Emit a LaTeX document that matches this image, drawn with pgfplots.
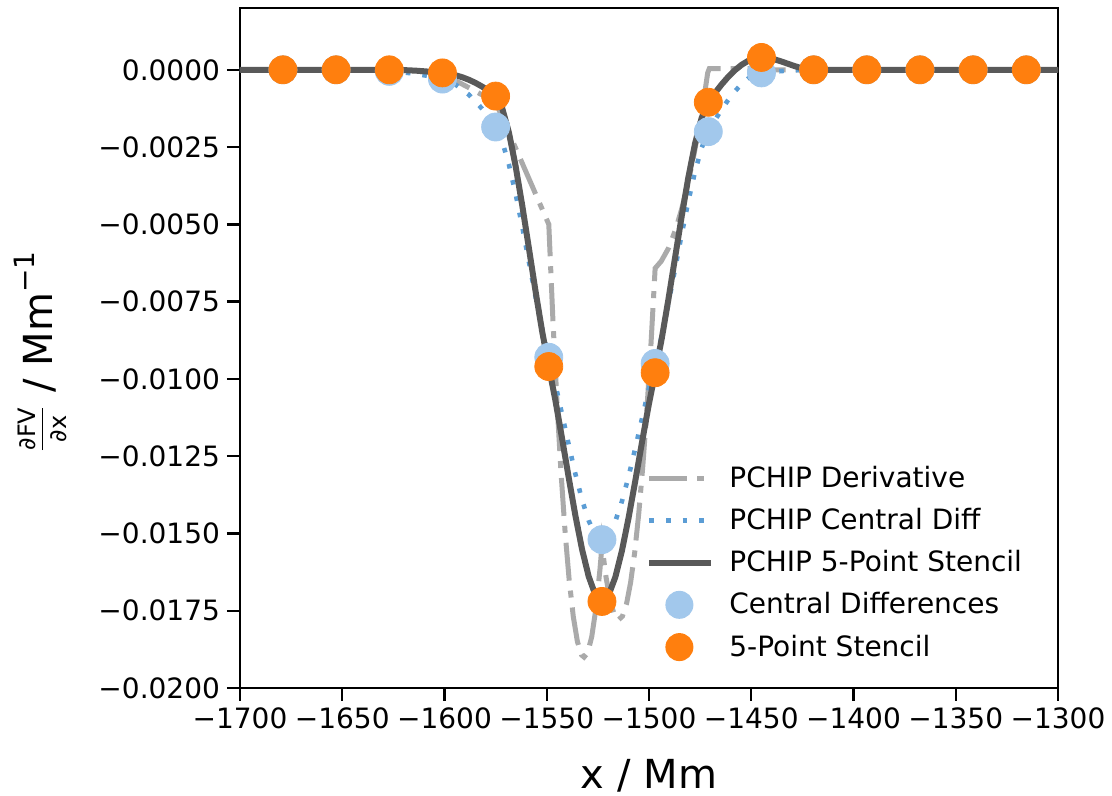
\documentclass[border=0pt]{standalone}
\usepackage{fontspec}
\setmainfont{DejaVu Sans}
\usepackage{pgfplots}
\pgfplotsset{compat=1.18}

\definecolor{stencilline}{RGB}{89,89,89}
\definecolor{derivgray}{RGB}{170,170,170}
\definecolor{cdline}{RGB}{91,157,213}
\definecolor{cddot}{RGB}{162,200,236}
\definecolor{fpsorange}{RGB}{255,127,14}

\tikzset{
  derivstyle/.style={derivgray, line width=2.5pt, dash pattern=on 19pt off 5pt on 3.5pt off 5pt},
  cdstyle/.style={cdline, line width=2.3pt, dash pattern=on 2.3pt off 6pt},
  stencilstyle/.style={stencilline, line width=3pt},
}

\begin{document}
\begin{tikzpicture}
\begin{axis}[
  scale only axis, width=409pt, height=340pt,
  xmin=-1700, xmax=-1300, ymin=-0.02, ymax=0.002,
  scaled x ticks=false, scaled y ticks=false,
  xtick={-1700,-1650,-1600,-1550,-1500,-1450,-1400,-1350,-1300},
  xticklabels={−1700,−1650,−1600,−1550,−1500,−1450,−1400,−1350,−1300},
  ytick={-0.02,-0.0175,-0.015,-0.0125,-0.01,-0.0075,-0.005,-0.0025,0},
  yticklabels={−0.0200,−0.0175,−0.0150,−0.0125,−0.0100,−0.0075,−0.0050,−0.0025,0.0000},
  tick pos=left, tick align=outside,
  major tick length=6.5pt,
  tick style={black, line width=1.2pt},
  axis line style={line width=1.3pt},
  ticklabel style={font=\fontsize{14}{17}\selectfont},
  xlabel={x / Mm},
  xlabel style={font=\fontsize{20}{24}\selectfont, at={(axis description cs:0.5,-0.129)}, anchor=center},
  ylabel={$\frac{\mbox{\fontsize{12}{14}\selectfont ∂FV}}{\mbox{\fontsize{12}{14}\selectfont ∂x}}$ / Mm\raisebox{0.45em}{\fontsize{14}{16}\selectfont −1}},
  ylabel style={font=\fontsize{20}{24}\selectfont, at={(axis description cs:-0.244,0.494)}, anchor=center},
  legend cell align=left,
  legend style={draw=none, fill=none, at={(rel axis cs:0.489,0.339)}, anchor=north west,
    font=\fontsize{14}{17}\selectfont, row sep=5pt},
]
% legend entries, listed in the order of the key
\addlegendimage{legend image code/.code={\path[draw=none] (0pt,0pt) -- (38pt,0pt); \draw[derivstyle] (0pt,0pt) -- (31pt,0pt);}}
\addlegendentry{PCHIP Derivative}
\addlegendimage{legend image code/.code={\path[draw=none] (0pt,0pt) -- (38pt,0pt); \draw[cdstyle] (0pt,0pt) -- (31pt,0pt);}}
\addlegendentry{PCHIP Central Diff}
\addlegendimage{legend image code/.code={\path[draw=none] (0pt,0pt) -- (38pt,0pt); \draw[stencilstyle] (0pt,0pt) -- (31pt,0pt);}}
\addlegendentry{PCHIP 5-Point Stencil}
\addlegendimage{legend image code/.code={\path[draw=none, fill=none] (0pt,-1pt) rectangle (38pt,1pt); \fill[cddot, draw=none] (15pt,0pt) circle[radius=7pt];}}
\addlegendentry{Central Differences}
\addlegendimage{legend image code/.code={\path[draw=none, fill=none] (0pt,-1pt) rectangle (38pt,1pt); \fill[fpsorange, draw=none] (15pt,0pt) circle[radius=7pt];}}
\addlegendentry{5-Point Stencil}

% sampled derivatives (drawn beneath the interpolated curves)
\addplot[forget plot, only marks, mark=*, mark size=7pt, color=cddot, mark options={draw=none, fill=cddot}] coordinates {
(-1679,0) (-1653,0) (-1627,-0.00005) (-1601,-0.0003) (-1575,-0.00185) (-1549,-0.0093)
(-1523,-0.0152) (-1497,-0.0095) (-1471,-0.002) (-1445,-0.0001) (-1419.5,0) (-1393.5,0)
(-1367.5,0) (-1341.5,0) (-1315.5,0)};
\addplot[forget plot, only marks, mark=*, mark size=7pt, color=fpsorange, mark options={draw=none, fill=fpsorange}] coordinates {
(-1679,0) (-1653,0) (-1627,0) (-1601,-0.0001) (-1575,-0.00085) (-1549,-0.0096)
(-1523,-0.0172) (-1497,-0.0098) (-1471,-0.00105) (-1445,0.0004) (-1419.5,0) (-1393.5,0)
(-1367.5,0) (-1341.5,0) (-1315.5,0)};

% PCHIP derivative
\addplot[forget plot, derivstyle] coordinates {
(-1700,0) (-1627,0) (-1614,-0.00004) (-1601,-0.00013) (-1588,-0.00058) (-1575,-0.00105)
(-1562,-0.00302) (-1549,-0.0050)
(-1547,-0.00807) (-1545,-0.01075) (-1543,-0.01305) (-1541,-0.01498) (-1539,-0.01653)
(-1537,-0.0177) (-1535,-0.0185) (-1533,-0.01893) (-1531.75,-0.0190) (-1530,-0.01886)
(-1528,-0.01834) (-1526,-0.01745) (-1524,-0.01618) (-1523,-0.0154)
(-1521,-0.01642) (-1519,-0.01717) (-1517,-0.01763) (-1515,-0.0178) (-1513,-0.01768)
(-1511,-0.01728) (-1509,-0.01659) (-1507,-0.01562) (-1505,-0.01435) (-1503,-0.0128)
(-1501,-0.01097) (-1499,-0.00884) (-1497,-0.00642)
(-1494,-0.00619) (-1490.5,-0.005775) (-1487,-0.00517) (-1484,-0.0045) (-1481,-0.00369)
(-1478,-0.00274) (-1475,-0.00166) (-1473,-0.00086) (-1471.3,-0.0001)
(-1470.5,0.00004) (-1452,0.00004) (-1444,0) (-1300,0)};

% PCHIP through central differences
\addplot[forget plot, cdstyle] coordinates {
(-1700,0) (-1653,0)
(-1646.5,-0.0000039) (-1640,-0.0000146) (-1633.5,-0.0000305) (-1627,-0.00005)
(-1620.5,-0.0000806) (-1614,-0.0001316) (-1607.5,-0.0002043) (-1601,-0.0003)
(-1594.5,-0.0004824) (-1588,-0.0008079) (-1581.5,-0.001267) (-1575,-0.00185)
(-1571.75,-0.002326) (-1568.5,-0.003066) (-1565.25,-0.004004) (-1562,-0.005073)
(-1558.75,-0.006204) (-1555.5,-0.00733) (-1552.25,-0.008385) (-1549,-0.0093)
(-1545.75,-0.010184) (-1542.5,-0.011148) (-1539.25,-0.012131) (-1536,-0.013073)
(-1532.75,-0.013912) (-1529.5,-0.014587) (-1526.25,-0.015037) (-1523,-0.0152)
(-1519.75,-0.015044) (-1516.5,-0.014613) (-1513.25,-0.013966) (-1510,-0.01316)
(-1506.75,-0.012252) (-1503.5,-0.011302) (-1500.25,-0.010365) (-1497,-0.0095)
(-1493.75,-0.008599) (-1490.5,-0.007559) (-1487.25,-0.006445) (-1484,-0.005319)
(-1480.75,-0.004248) (-1477.5,-0.003295) (-1474.25,-0.002524) (-1471,-0.002)
(-1467.75,-0.001631) (-1464.5,-0.001286) (-1461.25,-0.000971) (-1458,-0.000695)
(-1454.75,-0.000463) (-1451.5,-0.000281) (-1448.25,-0.000158) (-1445,-0.0001)
(-1438.6,-0.0000577) (-1432.25,-0.000026) (-1425.9,-0.0000067) (-1419.5,0) (-1300,0)};

% PCHIP through the 5-point stencil values
\addplot[forget plot, stencilstyle] coordinates {
(-1700,0) (-1653,0) (-1627,0)
(-1620.5,-0.0000074) (-1614,-0.0000279) (-1607.5,-0.0000596) (-1601,-0.0001)
(-1597.75,-0.0001302) (-1594.5,-0.0001772) (-1591.25,-0.0002417) (-1588,-0.0003243)
(-1584.75,-0.0004258) (-1581.5,-0.0005468) (-1578.25,-0.0006879) (-1575,-0.00085)
(-1571.75,-0.001247) (-1568.5,-0.002030) (-1565.25,-0.003106) (-1562,-0.004381)
(-1558.75,-0.005761) (-1555.5,-0.007154) (-1552.25,-0.008464) (-1549,-0.0096)
(-1545.75,-0.010705) (-1542.5,-0.01193) (-1539.25,-0.013196) (-1536,-0.01442)
(-1532.75,-0.01551) (-1529.5,-0.01639) (-1526.25,-0.016985) (-1523,-0.0172)
(-1519.75,-0.016992) (-1516.5,-0.01642) (-1513.25,-0.015564) (-1510,-0.0145)
(-1506.75,-0.013316) (-1503.5,-0.01208) (-1500.25,-0.010885) (-1497,-0.0098)
(-1493.75,-0.008691) (-1490.5,-0.007422) (-1487.25,-0.006075) (-1484,-0.004734)
(-1480.75,-0.003478) (-1477.5,-0.002391) (-1474.25,-0.001555) (-1471,-0.00105)
(-1467.75,-0.00075) (-1464.5,-0.000474) (-1461.25,-0.000227) (-1458,-0.000014)
(-1454.75,0.00016) (-1451.5,0.00029) (-1448.25,0.000372) (-1445,0.0004)
(-1441.8,0.000383) (-1438.6,0.000338) (-1435.4,0.000273) (-1432.25,0.0002)
(-1429.1,0.000127) (-1425.9,0.0000625) (-1422.7,0.0000172) (-1419.5,0) (-1300,0)};
\end{axis}
\pgfresetboundingbox
\path[use as bounding box] (-120pt,-54pt) rectangle (436pt,344pt);
\end{tikzpicture}
\end{document}
